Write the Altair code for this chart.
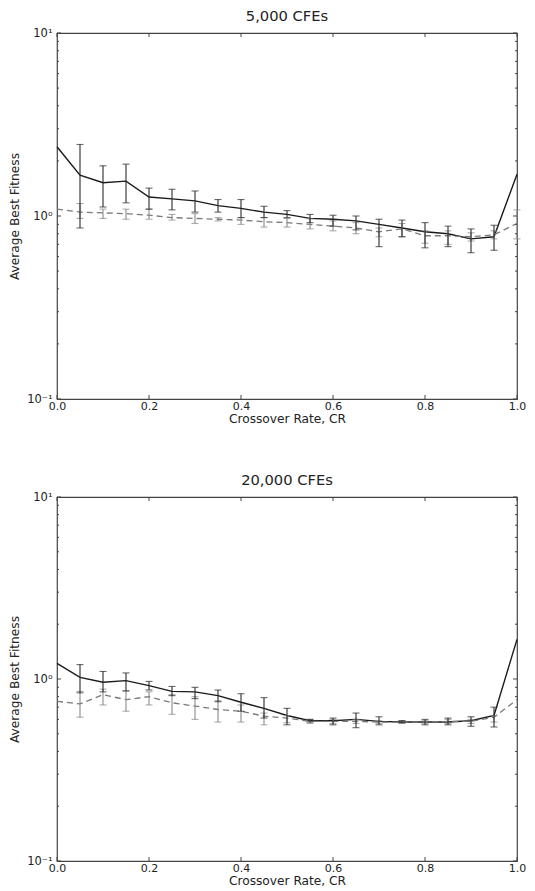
import altair as alt
import pandas as pd

# ---------------- data ----------------
cr = [0.0, 0.05, 0.1, 0.15, 0.2, 0.25, 0.3, 0.35, 0.4, 0.45, 0.5,
      0.55, 0.6, 0.65, 0.7, 0.75, 0.8, 0.85, 0.9, 0.95, 1.0]

# 5,000 CFEs
top_solid_mean = [2.39, 1.67, 1.52, 1.55, 1.27, 1.24, 1.21, 1.14, 1.10, 1.05, 1.02,
                  0.97, 0.96, 0.94, 0.90, 0.86, 0.82, 0.80, 0.75, 0.77, 1.69]
top_solid_lo = [None, 0.86, 1.12, 1.18, 1.09, 1.08, 1.05, 1.05, 0.98, 0.98, 0.98,
                0.92, 0.88, 0.84, 0.68, 0.77, 0.67, 0.68, 0.63, 0.65, None]
top_solid_hi = [None, 2.46, 1.88, 1.92, 1.42, 1.40, 1.37, 1.23, 1.23, 1.13, 1.07,
                1.02, 1.01, 1.00, 0.96, 0.95, 0.92, 0.88, 0.85, 0.89, None]
top_dash_mean = [1.09, 1.05, 1.04, 1.03, 1.01, 0.98, 0.97, 0.96, 0.95, 0.93, 0.92,
                 0.90, 0.88, 0.86, 0.82, 0.85, 0.78, 0.78, 0.77, 0.79, 0.91]
top_dash_lo = [None, 0.97, 0.97, 0.96, 0.96, 0.95, 0.91, 0.94, 0.90, 0.87, 0.87,
               0.85, 0.83, 0.80, 0.77, 0.77, 0.71, 0.70, 0.73, 0.75, 0.75]
top_dash_hi = [None, 1.17, 1.09, 1.09, 1.09, 1.02, 1.03, 0.98, 0.98, 0.98, 0.97,
               0.965, 0.94, 0.92, 0.86, 0.91, 0.83, 0.83, 0.81, 0.83, 1.08]

# 20,000 CFEs
bot_solid_mean = [1.22, 1.02, 0.96, 0.98, 0.92, 0.855, 0.85, 0.81, 0.745, 0.69, 0.63,
                  0.59, 0.59, 0.60, 0.585, 0.58, 0.58, 0.58, 0.59, 0.63, 1.65]
bot_solid_lo = [None, 0.84, 0.85, 0.86, 0.87, 0.81, 0.78, 0.75, 0.665, 0.61, 0.56,
                0.58, 0.56, 0.54, 0.56, 0.575, 0.56, 0.56, 0.55, 0.545, None]
bot_solid_hi = [None, 1.20, 1.10, 1.08, 0.97, 0.91, 0.90, 0.87, 0.83, 0.79, 0.69,
                0.60, 0.61, 0.65, 0.62, 0.59, 0.60, 0.61, 0.62, 0.70, None]
bot_dash_mean = [0.754, 0.73, 0.82, 0.77, 0.80, 0.74, 0.71, 0.68, 0.665, 0.625, 0.61,
                 0.585, 0.585, 0.585, 0.58, 0.58, 0.58, 0.585, 0.585, 0.617, 0.77]
bot_dash_lo = [None, 0.617, 0.72, 0.665, 0.72, 0.64, 0.60, 0.58, 0.58, 0.56, 0.575,
               0.57, 0.57, 0.57, 0.57, 0.57, 0.57, 0.57, 0.57, 0.58, None]
bot_dash_hi = [None, 0.855, 0.88, 0.86, 0.85, 0.82, 0.80, 0.76, 0.72, 0.65, 0.63,
               0.60, 0.60, 0.60, 0.59, 0.59, 0.59, 0.60, 0.60, 0.63, None]

x_ticks = [0.0, 0.2, 0.4, 0.6, 0.8, 1.0]
y_major = [0.1, 1.0, 10.0]
y_minor = [0.2, 0.3, 0.4, 0.5, 0.6, 0.7, 0.8, 0.9, 2, 3, 4, 5, 6, 7, 8, 9]

FONT = "DejaVu Sans"
W = 460


def panel(title, sm, slo, shi, dm, dlo, dhi, h):
    df = pd.DataFrame({"cr": cr, "s": sm, "s_lo": slo, "s_hi": shi,
                       "d": dm, "d_lo": dlo, "d_hi": dhi})
    xs = alt.Scale(domain=[0, 1], nice=False, zero=False)
    ys = alt.Scale(type="log", domain=[0.1, 10], nice=False)
    x_axis = alt.Axis(title="Crossover Rate, CR", values=x_ticks, format=".1f",
                      ticks=False, grid=False, domain=False, labelFlush=False,
                      labelOverlap=False, labelPadding=1, titlePadding=1,
                      labelFont=FONT, titleFont=FONT, labelFontSize=11,
                      titleFontSize=12.2, titleFontWeight="normal",
                      labelColor="#222", titleColor="#222")
    y_axis = alt.Axis(title="Average Best Fitness", values=y_major,
                      labelExpr="datum.value > 5 ? '10¹' : (datum.value > 0.5 ? '10⁰' : '10⁻¹')",
                      ticks=False, grid=False, domain=False, labelOverlap=False,
                      labelPadding=5, titlePadding=5, labelBound=False,
                      labelFont=FONT, titleFont=FONT, labelFontSize=11.5,
                      titleFontSize=12.2, titleFontWeight="normal",
                      labelColor="#222", titleColor="#222")
    X = alt.X("cr:Q", scale=xs, axis=x_axis)
    Xn = alt.X("cr:Q", scale=xs)
    base = alt.Chart(df)

    s_line = base.mark_line(color="#1a1a1a", strokeWidth=1.4).encode(
        x=X, y=alt.Y("s:Q", scale=ys, axis=y_axis))
    d_line = base.mark_line(color="#7a7a7a", strokeWidth=1.3, strokeDash=[6, 4]).encode(
        x=Xn, y=alt.Y("d:Q", scale=ys))

    s_valid = base.transform_filter("isValid(datum.s_lo)")
    d_valid = base.transform_filter("isValid(datum.d_lo)")
    s_bar = s_valid.mark_rule(color="#2a2a2a", strokeWidth=1.1).encode(
        x=Xn, y=alt.Y("s_lo:Q", scale=ys), y2="s_hi:Q")
    s_cap1 = s_valid.mark_tick(orient="horizontal", size=7, thickness=1.1,
                               color="#2a2a2a").encode(x=Xn, y=alt.Y("s_lo:Q", scale=ys))
    s_cap2 = s_valid.mark_tick(orient="horizontal", size=7, thickness=1.1,
                               color="#2a2a2a").encode(x=Xn, y=alt.Y("s_hi:Q", scale=ys))
    d_bar = d_valid.mark_rule(color="#8a8a8a", strokeWidth=1.1).encode(
        x=Xn, y=alt.Y("d_lo:Q", scale=ys), y2="d_hi:Q")
    d_cap1 = d_valid.mark_tick(orient="horizontal", size=7, thickness=1.1,
                               color="#8a8a8a").encode(x=Xn, y=alt.Y("d_lo:Q", scale=ys))
    d_cap2 = d_valid.mark_tick(orient="horizontal", size=7, thickness=1.1,
                               color="#8a8a8a").encode(x=Xn, y=alt.Y("d_hi:Q", scale=ys))

    xt = alt.Chart(pd.DataFrame({"cr": x_ticks}))
    xt_bot = xt.mark_rule(color="#444").encode(x=Xn, y=alt.value(h), y2=alt.value(h - 4))
    xt_top = xt.mark_rule(color="#444").encode(x=Xn, y=alt.value(0), y2=alt.value(4))
    ymj = alt.Chart(pd.DataFrame({"s": y_major}))
    ymn = alt.Chart(pd.DataFrame({"s": y_minor}))
    yl_maj = ymj.mark_rule(color="#444").encode(y=alt.Y("s:Q", scale=ys), x=alt.value(0), x2=alt.value(4))
    yr_maj = ymj.mark_rule(color="#444").encode(y=alt.Y("s:Q", scale=ys), x=alt.value(W), x2=alt.value(W - 4))
    yl_min = ymn.mark_rule(color="#444").encode(y=alt.Y("s:Q", scale=ys), x=alt.value(0), x2=alt.value(2))
    yr_min = ymn.mark_rule(color="#444").encode(y=alt.Y("s:Q", scale=ys), x=alt.value(W), x2=alt.value(W - 2))

    return alt.layer(
        s_line, d_line, d_bar, d_cap1, d_cap2, s_bar, s_cap1, s_cap2,
        xt_bot, xt_top, yl_maj, yr_maj, yl_min, yr_min
    ).properties(
        width=W, height=h,
        title=alt.TitleParams(title, font=FONT, fontSize=14.7, fontWeight="normal",
                              color="#222", offset=3)
    )


top = panel("5,000 CFEs", top_solid_mean, top_solid_lo, top_solid_hi,
            top_dash_mean, top_dash_lo, top_dash_hi, 366)
bot = panel("20,000 CFEs", bot_solid_mean, bot_solid_lo, bot_solid_hi,
            bot_dash_mean, bot_dash_lo, bot_dash_hi, 364)

chart = alt.vconcat(top, bot, spacing=47).properties(
    padding={"left": 0, "right": 0, "top": 0, "bottom": 0},
    background="white",
).configure_view(stroke="#444", strokeWidth=1.2)

chart.save("out.html", embed_options={"renderer": "svg", "actions": False})
